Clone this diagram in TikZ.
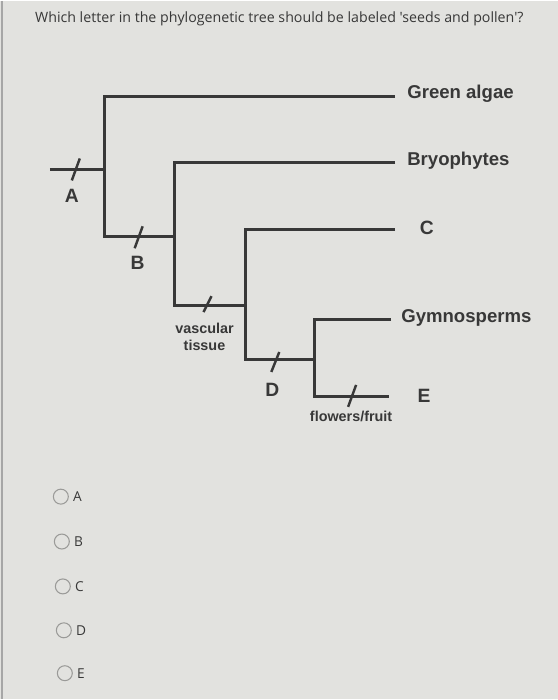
\documentclass[tikz,border=0pt]{standalone}
\usepackage{fontspec}
\setmainfont{Liberation Sans}
\newfontfamily\quizfont{Open Sans}
\usetikzlibrary{calc}
\definecolor{paper}{HTML}{E2E2DF}
\definecolor{ink}{HTML}{383838}
\definecolor{ringgray}{HTML}{9A9A98}

\begin{document}
\begin{tikzpicture}[
  x=0.02cm, y=-0.02cm,
  branch/.style={draw=ink, line width=1.7pt},
  tick/.style={draw=ink, line width=1.4pt},
  taxon/.style={anchor=west, text=ink, inner sep=0pt, font=\fontsize{10.6}{12}\selectfont\bfseries},
  letter/.style={text=ink, inner sep=0pt, font=\fontsize{11}{13}\selectfont\bfseries},
  trait/.style={text=ink, inner sep=0pt, align=center, font=\fontsize{8.2}{10}\selectfont\bfseries},
  radio/.style={draw=ringgray, line width=0.6pt, circle, minimum size=0.3cm, inner sep=0pt},
  optlabel/.style={anchor=west, text=ink, inner sep=0pt, font=\quizfont\fontsize{7.8}{9}\selectfont}
]
% page
\fill[paper] (0,0) rectangle (559,700);
\draw[gray!70, line width=1pt] (2,0) -- (2,700);
\useasboundingbox (0,0) rectangle (559,700);

% question
\node[text=ink, inner sep=0pt, font=\quizfont\fontsize{8.1}{10}\selectfont] (question) at (280,18)
  {Which letter in the phylogenetic tree should be labeled 'seeds and pollen'?};

% tree: internal nodes and tips
\coordinate (base) at (50,169);
\coordinate (n1) at (105,169);
\coordinate (n2) at (175,236);
\coordinate (n3) at (246,305);
\coordinate (n4) at (315,360);
\coordinate (tipga) at (396,96);
\coordinate (tipbr) at (396,162);
\coordinate (tipc) at (396,229);
\coordinate (tipgy) at (392,319);
\coordinate (tipe) at (390,397);

\draw[branch] (base) -- (n1);
\draw[branch] (tipga) -| (n1) |- (n2);
\draw[branch] (tipbr) -| (n2) |- (n3);
\draw[branch] (tipc) -| (n3) |- (n4);
\draw[branch] (tipgy) -| (n4) |- (tipe);

% character marks
\foreach \x/\y/\h in {76/169/11, 139/237/11, 208/304/8, 276/362/10, 353/396/11}
  \draw[tick] (\x-4,\y+\h) -- (\x+4,\y-\h);

% tip labels
\node[taxon] (ga) at (408,93) {Green algae};
\node[taxon] (br) at (408,160) {Bryophytes};
\node[letter] (lc) at (428,228) {C};
\node[taxon] (gy) at (402,318) {Gymnosperms};
\node[letter] (le) at (425,396) {E};

% branch labels
\node[letter] (la) at (72,195) {A};
\node[letter] (lb) at (138,263) {B};
\node[letter] (ld) at (273,390) {D};
\node[trait] (vasc) at (205,337) {vascular\\tissue};
\node[trait] (flow) at (352,417) {flowers/fruit};

% answer choices
\foreach \l/\y [count=\i] in {A/497, B/542, C/587, D/631, E/674} {
  \node[radio] (r\i) at (60+\i,\y) {};
  \node[optlabel] (o\i) at ([xshift=0.24cm]r\i.center) {\l};
}
\end{tikzpicture}
\end{document}
